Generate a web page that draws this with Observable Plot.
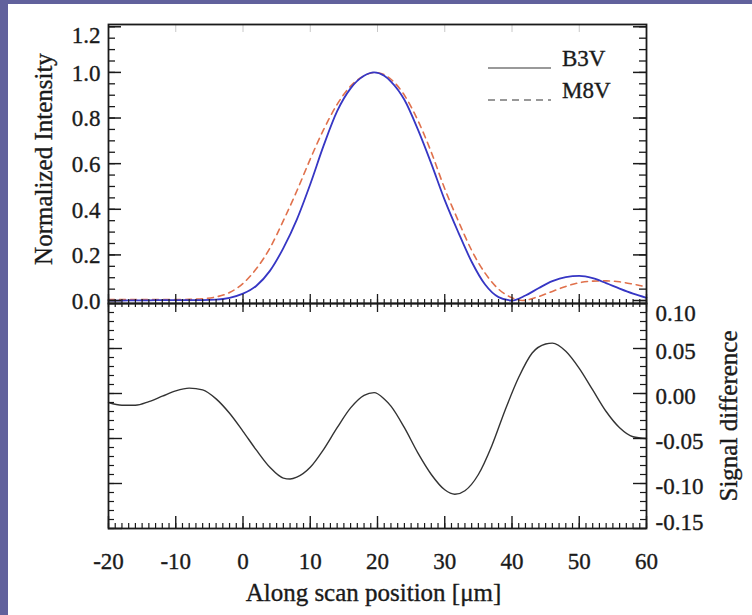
<!DOCTYPE html>
<html><head><meta charset="utf-8">
<script src="https://cdn.jsdelivr.net/npm/d3@7"></script>
<script src="https://cdn.jsdelivr.net/npm/@observablehq/plot@0.6"></script>
<style>
html,body{margin:0;padding:0;background:#61619c;}
#wrap{position:relative;width:752px;height:615px;background:#61619c;overflow:hidden;}
#panel{position:absolute;left:8px;top:4px;right:0;bottom:0;background:#fff;}
.pl{position:absolute;left:0;}
</style></head><body>
<div id="wrap"><div id="panel"></div></div>
<script>
// ---- data ----
const xB3V = [-20,-18,-16,-14,-12,-10,-8,-6,-4,-2,0,2,4,6,8,10,12,14,16,18,19.5,21,22,24,26,28,30,32,34,36,38,40,42,44,46,48,50,52,54,56,58,60];
const yB3V = [0.000,0.000,0.001,0.001,0.002,0.002,0.002,0.002,0.004,0.012,0.030,0.065,0.130,0.230,0.355,0.510,0.680,0.830,0.930,0.985,1.000,0.985,0.960,0.880,0.750,0.600,0.440,0.300,0.170,0.070,0.015,0.000,0.022,0.055,0.085,0.103,0.108,0.098,0.076,0.052,0.030,0.012];
const xM8V = [-20,-18,-16,-14,-12,-10,-8,-6,-4,-2,0,2,4,6,8,10,12,14,16,18,19.5,21,22,24,26,28,30,32,34,36,38,40,41.5,44,46,48,50,52,54,56,58,60];
const yM8V = [0.004,0.004,0.004,0.004,0.004,0.004,0.005,0.008,0.016,0.035,0.075,0.140,0.230,0.350,0.480,0.620,0.750,0.860,0.940,0.985,1.000,0.990,0.970,0.900,0.790,0.650,0.490,0.350,0.220,0.120,0.050,0.012,0.000,0.018,0.040,0.062,0.078,0.085,0.086,0.082,0.072,0.060];
const xDiff = [-20,-18,-16,-14,-12,-10,-8,-6,-4,-2,0,2,4,6,7,8,10,12,14,16,18,19.5,21,22,24,26,28,30,31.5,33,35,37,39,41,43,45,46,48,50,52,54,56,58,60];
const yDiff = [-0.010,-0.013,-0.013,-0.009,-0.003,0.003,0.006,0.004,-0.006,-0.022,-0.042,-0.063,-0.082,-0.094,-0.095,-0.093,-0.082,-0.062,-0.038,-0.016,-0.002,0.001,-0.006,-0.014,-0.038,-0.066,-0.090,-0.107,-0.112,-0.108,-0.090,-0.058,-0.018,0.018,0.045,0.055,0.056,0.047,0.028,0.004,-0.020,-0.038,-0.048,-0.050];

const legendNames = ["B3V", "M8V"];
const xTicks = [-20,-10,0,10,20,30,40,50,60];
const xTickLabels = ["-20","-10","0","10","20","30","40","50","60"];
const yTicksTop = [0,0.2,0.4,0.6,0.8,1.0,1.2];
const yTickLabelsTop = ["0.0","0.2","0.4","0.6","0.8","1.0","1.2"];
const diffTicks = [-0.15,-0.10,-0.05,0,0.05,0.10];
const diffTickLabels = ["-0.15","-0.10","-0.05","0.00","0.05","0.10"];
const xLabel = "Along scan position [μm]";
const yLabelTop = "Normalized Intensity";
const yLabelBot = "Signal difference";

// ---- build ----
const b3v = xB3V.map((x, i) => ({x, y: yB3V[i]}));
const m8v = xM8V.map((x, i) => ({x, y: yM8V[i]}));
const diff = xDiff.map((x, i) => ({x, y: yDiff[i]}));
const xMinor = d3.range(-20, 60.5, 1);
const yMinorTop = d3.range(0, 1.2001, 0.05);
const diffMinor = d3.range(-0.15, 0.1001, 0.01);
const topLab = yTicksTop.map((v, i) => ({v, t: yTickLabelsTop[i], last: i === yTicksTop.length - 1}));
const diffLab = diffTicks.map((v, i) => ({v, t: diffTickLabels[i], pos: i === 0 ? "bottom" : i === diffTicks.length - 1 ? "top" : "mid"}));

const FONT = "'Liberation Serif', 'DejaVu Serif', serif";
const INK = "#1a1a1a";
const TXT = {fill: INK, stroke: INK, strokeWidth: 0.35};
const W = 752, L = 108, R = 106, innerW = W - L - R;
const topH = 303, topMT = 24, topInner = topH - topMT;
const botH = 312, botMB = 87, botInner = botH - botMB;
const style = {background: "transparent", fontFamily: FONT, fontSize: "23px", color: INK, overflow: "visible"};

const topPlot = Plot.plot({
  width: W, height: topH, marginLeft: L, marginRight: R, marginTop: topMT, marginBottom: 0,
  x: {domain: [-20, 60], axis: null},
  y: {domain: [-0.013, 1.21], axis: null},
  style,
  marks: [
    Plot.line(m8v, {x: "x", y: "y", stroke: "#e0714c", strokeWidth: 1.6, strokeDasharray: "6,5", curve: "monotone-x"}),
    Plot.line(b3v, {x: "x", y: "y", stroke: "#3636c4", strokeWidth: 1.8, curve: "monotone-x"}),
    Plot.tickY(yMinorTop, {y: d => d, insetRight: innerW - 7, stroke: INK, strokeWidth: 1.3}),
    Plot.tickY(yTicksTop, {y: d => d, insetRight: innerW - 13, stroke: INK, strokeWidth: 1.5}),
    Plot.tickY(yMinorTop, {y: d => d, insetLeft: innerW - 7, stroke: INK, strokeWidth: 1.3}),
    Plot.tickY(yTicksTop, {y: d => d, insetLeft: innerW - 13, stroke: INK, strokeWidth: 1.5}),
    Plot.tickX(xMinor, {x: d => d, insetTop: topInner - 4, stroke: INK, strokeWidth: 1.2}),
    Plot.tickX(xTicks, {x: d => d, insetTop: topInner - 9, stroke: INK, strokeWidth: 1.3}),
    Plot.tickX(xTicks, {x: d => d, insetBottom: topInner - 8, stroke: "#c8c8c8", strokeWidth: 1}),
    Plot.frame({stroke: INK, strokeWidth: 1.8}),
    Plot.text(topLab.filter(d => !d.last), {y: "v", text: "t", frameAnchor: "left", dx: -8, dy: 1, textAnchor: "end", lineAnchor: "middle", fontSize: 23, ...TXT}),
    Plot.text(topLab.filter(d => d.last), {y: "v", text: "t", frameAnchor: "left", dx: -8, dy: 9, textAnchor: "end", lineAnchor: "middle", fontSize: 23, ...TXT}),
    Plot.text([yLabelTop], {text: d => d, frameAnchor: "left", dx: -65, dy: -5, rotate: -90, textAnchor: "middle", lineAnchor: "middle", fontSize: 25, ...TXT})
  ]
});

const botPlot = Plot.plot({
  width: W, height: botH, marginLeft: L, marginRight: R, marginTop: 0, marginBottom: botMB,
  x: {domain: [-20, 60], axis: null},
  y: {domain: [-0.15, 0.10], axis: null},
  style,
  marks: [
    Plot.line(diff, {x: "x", y: "y", stroke: "#333", strokeWidth: 1.4, curve: "monotone-x"}),
    Plot.tickY(diffMinor, {y: d => d, insetRight: innerW - 6, stroke: INK, strokeWidth: 1.2}),
    Plot.tickY(diffTicks, {y: d => d, insetRight: innerW - 14, stroke: INK, strokeWidth: 1.4}),
    Plot.tickY(diffMinor, {y: d => d, insetLeft: innerW - 6, stroke: INK, strokeWidth: 1.2}),
    Plot.tickY(diffTicks, {y: d => d, insetLeft: innerW - 13, stroke: INK, strokeWidth: 1.4}),
    Plot.tickX(xMinor, {x: d => d, insetBottom: botInner - 4, stroke: INK, strokeWidth: 1.2}),
    Plot.tickX(xTicks, {x: d => d, insetBottom: botInner - 9, stroke: INK, strokeWidth: 1.3}),
    Plot.tickX(xMinor, {x: d => d, insetTop: botInner - 5, stroke: INK, strokeWidth: 1.2}),
    Plot.tickX(xTicks, {x: d => d, insetTop: botInner - 12, stroke: INK, strokeWidth: 1.4}),
    Plot.frame({stroke: INK, strokeWidth: 1.8}),
    Plot.text(xTicks, {x: d => d, text: (d, i) => xTickLabels[i], frameAnchor: "bottom", dy: 33, lineAnchor: "middle", fontSize: 23, ...TXT}),
    Plot.text([xLabel], {text: d => d, frameAnchor: "bottom", dy: 64, dx: -4, lineAnchor: "middle", fontSize: 25, ...TXT}),
    Plot.text(diffLab.filter(d => d.pos === "mid"), {y: "v", text: "t", frameAnchor: "right", dx: 9, dy: 3, textAnchor: "start", lineAnchor: "middle", fontSize: 23, ...TXT}),
    Plot.text(diffLab.filter(d => d.pos === "top"), {y: "v", text: "t", frameAnchor: "right", dx: 9, dy: 10, textAnchor: "start", lineAnchor: "middle", fontSize: 23, ...TXT}),
    Plot.text(diffLab.filter(d => d.pos === "bottom"), {y: "v", text: "t", frameAnchor: "right", dx: 9, dy: -6, textAnchor: "start", lineAnchor: "middle", fontSize: 23, ...TXT}),
    Plot.text([yLabelBot], {text: d => d, frameAnchor: "right", dx: 82, rotate: -90, textAnchor: "middle", lineAnchor: "middle", fontSize: 25, ...TXT})
  ]
});

const wrap = document.getElementById("wrap");
topPlot.classList.add("pl"); topPlot.style.top = "0px";
botPlot.classList.add("pl"); botPlot.style.top = topH + "px";
wrap.appendChild(botPlot);
wrap.appendChild(topPlot);

// legend (pixel layout overlay)
const leg = d3.select(wrap).append("svg")
  .attr("width", W).attr("height", 130)
  .style("position", "absolute").style("left", "0px").style("top", "0px")
  .style("font-family", FONT).style("font-size", "23px");
const dashes = [null, "7,5"];
legendNames.forEach((name, i) => {
  const yy = 68 + i * 32;
  leg.append("line").attr("x1", 488).attr("x2", 551).attr("y1", yy).attr("y2", yy)
    .attr("stroke", "#777").attr("stroke-width", 1.5).attr("stroke-dasharray", dashes[i]);
  leg.append("text").attr("x", 562).attr("y", yy - 2).attr("fill", INK)
    .attr("stroke", INK).attr("stroke-width", 0.35).text(name);
});
</script>
</body></html>
